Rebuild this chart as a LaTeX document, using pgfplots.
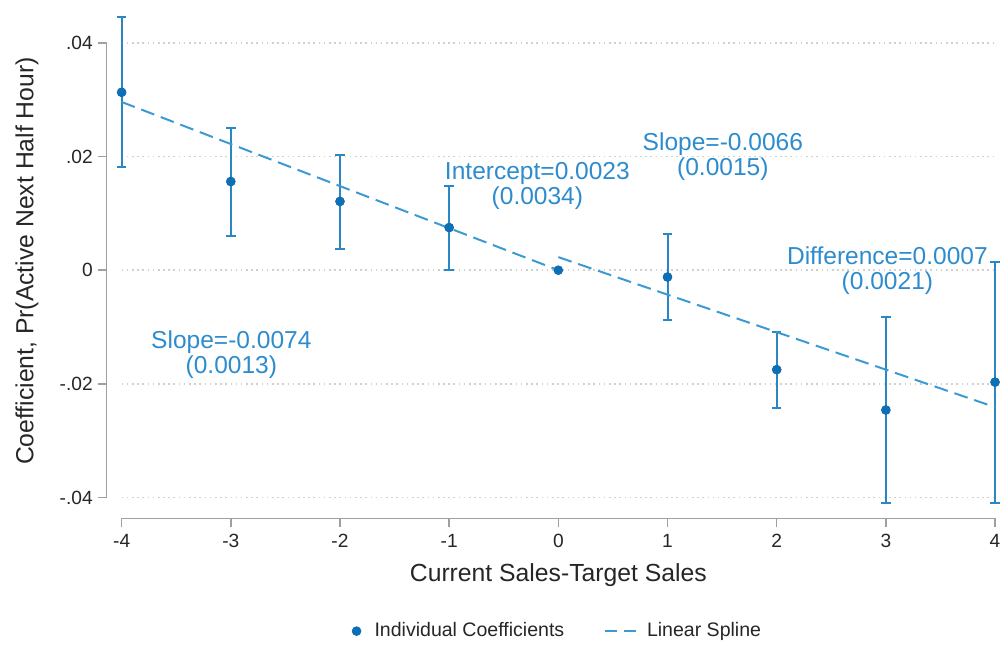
\documentclass[border=0pt]{standalone}
\usepackage{pgfplots}
\pgfplotsset{compat=1.18}
\usepackage{pgfplotstable}
\usepackage{fontspec}
\setmainfont{Liberation Sans}
\definecolor{mk}{HTML}{0D6FB5}
\definecolor{eb}{HTML}{2A87C3}
\definecolor{ln}{HTML}{3C9AD2}
\definecolor{tx}{HTML}{2D8CCD}
\definecolor{ax}{HTML}{A0A0A0}
\definecolor{lb}{HTML}{262626}
\definecolor{gr}{HTML}{D0D0D0}

\pgfplotstableread{
x y ep em
-4 0.0313 0.0133 0.0132
-3 0.0156 0.0095 0.0096
-2 0.0121 0.0081 0.0084
-1 0.0075 0.0074 0.0075
1 -0.0012 0.0076 0.0076
2 -0.0175 0.0066 0.0067
3 -0.0246 0.0163 0.0163
4 -0.0197 0.0212 0.0212
}\coefs
\pgfplotstableread{
x y
-4 0.0313
-3 0.0156
-2 0.0121
-1 0.0075
0 0.0000
1 -0.0012
2 -0.0175
3 -0.0246
4 -0.0197
}\points

\begin{document}
\begin{tikzpicture}
\begin{axis}[
  scale only axis,
  width=438pt, height=228pt,
  xmin=-4, xmax=4, ymin=-0.04, ymax=0.04,
  clip=false,
  axis x line*=bottom, axis y line*=left,
  axis x line shift=10.5pt, axis y line shift=7.5pt,
  axis line style={draw=none},
  tick style={ax, line width=0.8pt},
  tick align=outside, major tick length=4.5pt,
  xtick={-4,-3,-2,-1,0,1,2,3,4},
  xticklabels={-4,-3,-2,-1,0,1,2,3,4},
  ytick={-0.04,-0.02,0,0.02,0.04},
  yticklabels={-.04,-.02,0,.02,.04},
  ticklabel style={font=\fontsize{9.6}{11}\selectfont, text=lb},
  yticklabel style={xshift=1pt},
  scaled y ticks=false,
  ymajorgrids,
  major grid style={gr, line width=0.8pt, dash pattern=on 0.8pt off 1.8pt},
  xlabel={Current Sales-Target Sales},
  ylabel={Coefficient, Pr(Active Next Half Hour)},
  every axis x label/.style={at={(axis description cs:0.5,0)}, anchor=center, yshift=-39pt, font=\fontsize{12.4}{14}\selectfont, text=lb},
  every axis y label/.style={at={(axis description cs:0,0.52)}, anchor=center, xshift=-47.5pt, rotate=90, font=\fontsize{12.4}{14}\selectfont, text=lb},
  legend style={at={(axis description cs:0.5,0)}, anchor=center, yshift=-67pt, draw=none, fill=none,
    font=\fontsize{9.8}{11}\selectfont, text=lb},
  legend columns=2,
  legend cell align=left,
  /tikz/every even column/.append style={column sep=18pt},
]
\addplot[only marks, mark=none, forget plot,
  error bars/.cd, y dir=both, y explicit, error mark=-,
  error mark options={rotate=90, eb, line width=1pt, mark size=2.4pt},
  error bar style={eb, line width=1pt}]
  table[x=x, y=y, y error plus=ep, y error minus=em] {\coefs};
\addplot[only marks, mark=*, mark size=2.2pt, color=mk,
  legend image code/.code={\path[draw=none, fill=none] (0pt,0pt) -- (9.5pt,0pt); \draw[mark=*, mark size=2.2pt, mk] plot coordinates {(2.5pt,0pt)};}]
  table[x=x, y=y] {\points};
\addlegendentry{Individual Coefficients}
\addplot[ln, line width=1pt, dash pattern=on 7pt off 3.5pt,
  legend image code/.code={\path[draw=none, fill=none] (0pt,0pt) -- (19pt,0pt); \draw[ln, line width=1pt, dash pattern=on 6pt off 3.5pt] (0pt,0pt) -- (15.5pt,0pt);}]
  coordinates {(-4,0.0296) (0,0.0000)};
\addlegendentry{Linear Spline}
\addplot[ln, line width=1pt, dash pattern=on 7pt off 3.5pt, forget plot]
  coordinates {(0,0.0023) (4,-0.0241)};
\draw[ax, line width=0.8pt] ([yshift=-10.5pt]axis cs:-4,-0.04) -- ([yshift=-10.5pt]axis cs:4,-0.04);
\draw[ax, line width=0.8pt] ([xshift=-7.5pt]axis cs:-4,-0.04) -- ([xshift=-7.5pt]axis cs:-4,0.04);
\node[tx, align=center, font=\fontsize{12.3}{12.5}\selectfont] at (axis cs:-2.995,-0.0149) {Slope=-0.0074\\(0.0013)};
\node[tx, align=center, font=\fontsize{12.3}{12.5}\selectfont] at (axis cs:-0.192,0.0148) {Intercept=0.0023\\(0.0034)};
\node[tx, align=center, font=\fontsize{12.3}{12.5}\selectfont] at (axis cs:1.507,0.0199) {Slope=-0.0066\\(0.0015)};
\node[tx, align=center, font=\fontsize{12.3}{12.5}\selectfont] at (axis cs:3.014,-0.0001) {Difference=0.0007\\(0.0021)};
\path ([xshift=-61pt,yshift=-72pt]rel axis cs:0,0) rectangle ([xshift=4.5pt,yshift=21.5pt]rel axis cs:1,1);
\end{axis}
\end{tikzpicture}
\end{document}
